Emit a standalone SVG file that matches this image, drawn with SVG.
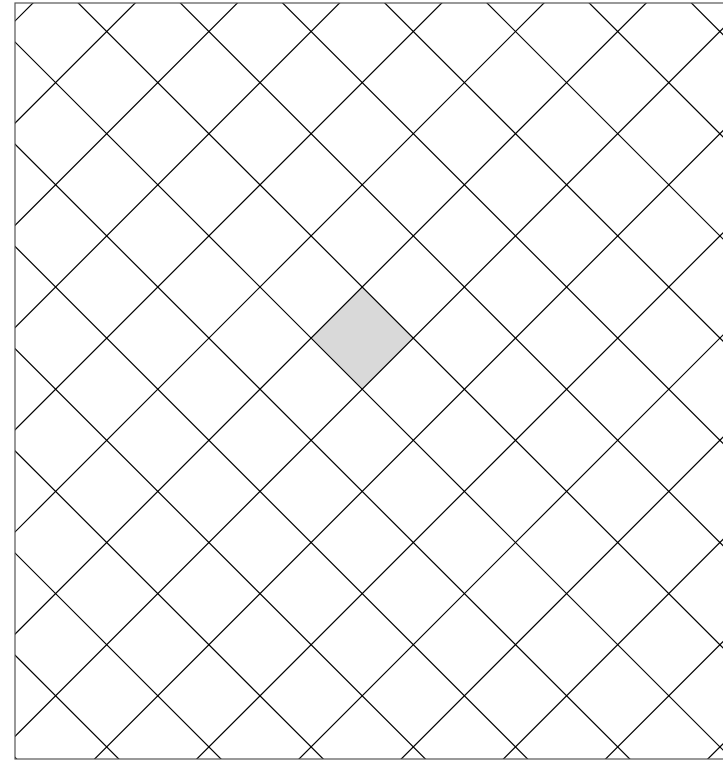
<svg xmlns="http://www.w3.org/2000/svg" width="723" height="760" viewBox="0 0 723 760">
<style>
.g{stroke:#000;stroke-width:1.2;fill:none}
.frame{stroke:#555;stroke-width:1.2;fill:none}
</style>
<defs>
<clipPath id="c"><rect x="15" y="3" width="720" height="756"/></clipPath>
</defs>
<rect width="723" height="760" fill="#fff"/>
<polygon points="311.1,338.1 362.2,287 413.3,338.1 362.2,389.2" fill="#d9d9d9"/>
<g clip-path="url(#c)" class="g">
<path d="M36,0L-724,760 M138.2,0L-621.8,760 M240.4,0L-519.6,760 M342.6,0L-417.4,760 M444.8,0L-315.2,760 M547,0L-213,760 M649.2,0L-110.8,760 M751.4,0L-8.6,760 M853.6,0L93.6,760 M955.8,0L195.8,760 M1058,0L298,760 M1160.2,0L400.2,760 M1262.4,0L502.4,760 M1364.6,0L604.6,760 M1466.8,0L706.8,760"/>
<path d="M0,-688.4L760,71.6 M0,-586.2L760,173.8 M0,-484L760,276 M0,-381.8L760,378.2 M0,-279.6L760,480.4 M0,-177.4L760,582.6 M0,-75.2L760,684.8 M0,27L760,787 M0,129.2L760,889.2 M0,231.4L760,991.4 M0,333.6L760,1093.6 M0,435.8L760,1195.8 M0,538L760,1298 M0,640.2L760,1400.2 M0,742.4L760,1502.4"/>
</g>
<rect class="frame" x="15" y="3" width="720" height="756"/>
</svg>
